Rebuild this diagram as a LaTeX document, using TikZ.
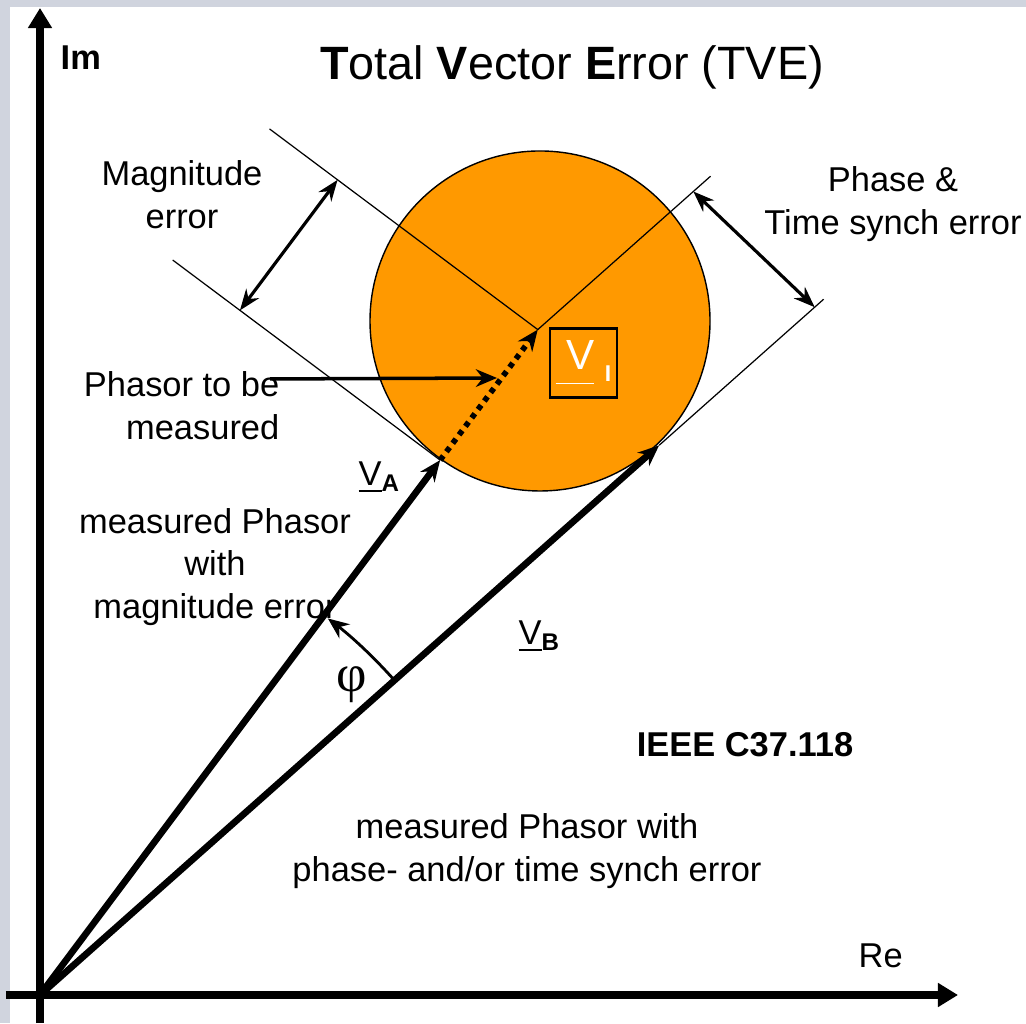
\documentclass[tikz,border=0pt]{standalone}
\usepackage{fontspec}
\setmainfont{Liberation Sans}
\newfontfamily\phifont{Liberation Serif}
\usetikzlibrary{arrows.meta,calc}
\definecolor{framegray}{RGB}{208,212,222}
\definecolor{tveorange}{RGB}{255,153,0}

\begin{document}
\begin{tikzpicture}[
    txt/.style={font=\fontsize{9.8}{12.2}\selectfont, align=center, inner sep=0pt},
    axis/.style={line width=2pt, -{Triangle[length=5.7pt,width=6.5pt]}},
    phasor/.style={line width=1.9pt, -{Stealth[length=6pt,width=5pt]}},
    guide/.style={line width=0.35pt},
    dimarrow/.style={line width=0.9pt, {Stealth[length=6pt,width=4.5pt]}-{Stealth[length=6pt,width=4.5pt]}},
]

% frame round the picture
\useasboundingbox (0,0) rectangle (10.26,10.23);
\fill[framegray] (0,0) rectangle (10.26,10.23);
\fill[white] (0.10,0) rectangle (10.26,10.16);

% origin and phasor end points
\coordinate (O) at (0.40,0.28);
\coordinate (V) at ($(O)+(53.2:8.31)$); % phasor to be measured
\coordinate (A) at ($(O)+(53.2:6.68)$); % magnitude error
\coordinate (B) at ($(O)+(41.6:8.28)$); % phase error

% TVE circle
\node[circle, fill=tveorange, draw=black, line width=0.4pt, minimum size=3.40cm, inner sep=0pt] (tve) at (5.40,7.02) {};

% axes
\coordinate (imbot) at (0.40,0);
\coordinate (imtop) at (0.40,10.15);
\coordinate (rebeg) at (0.06,0.28);
\coordinate (reend) at (9.58,0.28);
\draw[axis] (imbot) -- (imtop);
\draw[axis] (rebeg) -- (reend);
\node[txt, font=\fontsize{9.8}{12}\selectfont\bfseries, anchor=base west] (im) at (0.60,9.53) {Im};
\node[txt, anchor=base west] (re) at (8.58,0.56) {Re};

% thin guide lines
\coordinate (mag1) at ($(V)+(143.2:3.35)$);
\coordinate (mag2) at ($(A)+(143.2:3.34)$);
\coordinate (ph1) at ($(V)+(41.6:2.31)$);
\coordinate (ph2) at ($(B)+(41.6:2.20)$);
\draw[guide] (mag1) -- (V) -- (ph1);
\draw[guide] (mag2) -- (A);
\draw[guide] (B) -- (ph2);

% error dimensions
\coordinate (magup) at ($(V)+(143.2:2.50)$);
\coordinate (maglo) at ($(A)+(143.2:2.50)$);
\coordinate (phup) at ($(V)+(41.6:2.08)$);
\coordinate (phlo) at ($(B)+(41.6:2.08)$);
\draw[dimarrow] (magup) -- (maglo);
\draw[dimarrow] (phup) -- (phlo);

% phasors
\draw[phasor] (O) -- (A);
\draw[phasor] (O) -- (B);
\draw[line width=1.6pt, dash pattern=on 1.5pt off 1.5pt, -{Stealth[length=6pt,width=5pt]}] (A) -- (V);

% angle between the phasors
\coordinate (arcbeg) at ($(O)+(41.6:4.74)$);
\draw[line width=0.8pt, -{Stealth[length=6pt,width=5pt]}] (arcbeg) arc[start angle=41.6, end angle=52.6, radius=4.74];
\node[inner sep=0pt, font=\phifont\fontsize{15}{15}\selectfont] (phi) at (3.52,3.38) {φ};

% phasor names
\node[txt, anchor=base west] (va) at (3.58,5.37) {\underline{V}\textsubscript{\bfseries A}};
\node[txt, anchor=base west] (vb) at (5.18,3.78) {\underline{V}\textsubscript{\bfseries B}};
\node[draw=black, line width=0.6pt, minimum width=0.67cm, minimum height=0.69cm, inner sep=0pt, text=white, font=\fontsize{12}{12}\selectfont] (vi) at (5.835,6.60)
  {\underline{\kern3pt V\rule[-2.6pt]{0pt}{2.6pt}}\kern3pt\raisebox{-3.4pt}{\fontsize{6.5}{6.5}\selectfont\bfseries I}};

% labels
\node[inner sep=0pt, font=\fontsize{13.3}{16}\selectfont] (title) at (5.72,9.56) {\textbf{T}otal \textbf{V}ector \textbf{E}rror (TVE)};
\node[txt] (magerr) at (1.82,8.28) {Magnitude\\error};
\node[txt] (pherr) at (8.93,8.19) {Phase \&\\Time synch error};
\node[txt, align=right, anchor=east] (ptm) at (2.80,6.17) {Phasor to be\\measured};
\node[txt] (mpa) at (2.15,4.56) {measured Phasor\\with\\magnitude error};
\node[txt] (mpb) at (5.27,1.72) {measured Phasor with\\phase- and/or time synch error};
\node[txt, font=\fontsize{9.8}{12}\selectfont\bfseries, anchor=base] (ieee) at (7.45,2.66) {IEEE C37.118};

% pointer to the phasor
\coordinate (ptmfrom) at (2.70,6.44);
\coordinate (ptmtip) at (4.97,6.45);
\draw[line width=1pt, -{Stealth[length=6pt,width=5pt]}] (ptmfrom) -- (ptmtip);

\end{tikzpicture}
\end{document}
